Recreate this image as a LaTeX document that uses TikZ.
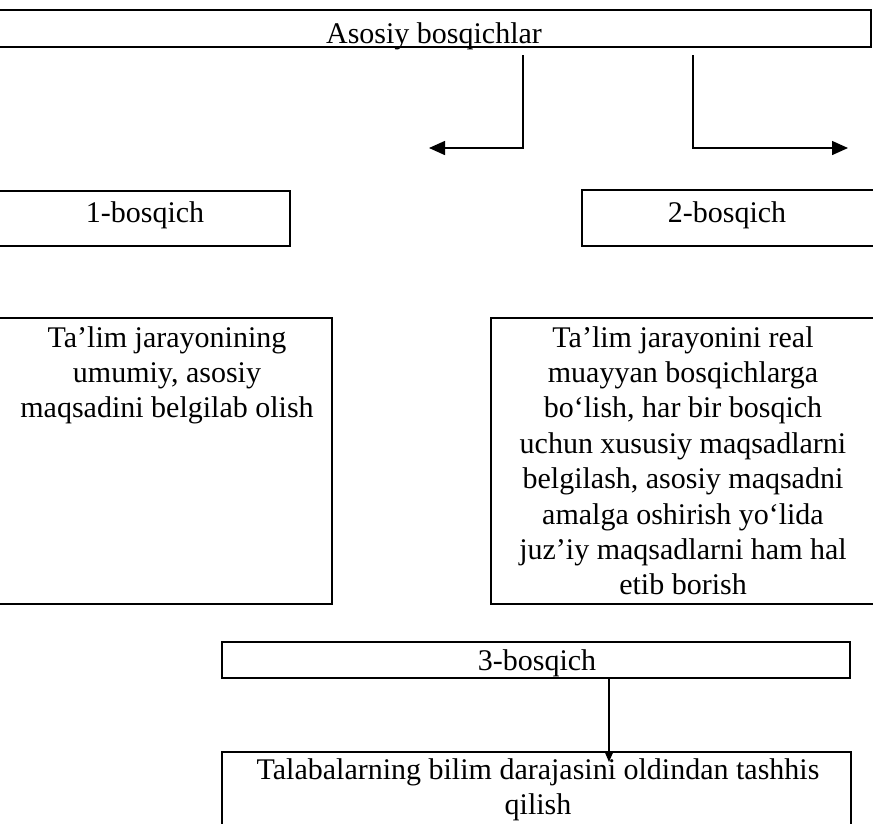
\documentclass[tikz,border=0pt]{standalone}
\usepackage{fontspec}
\setmainfont{Liberation Serif}
\usetikzlibrary{arrows.meta}
\tikzset{
  frame/.style={draw=black, line width=1.3pt, inner sep=0pt, fill=none},
  lbl/.style={inner sep=0pt, font=\fontsize{30}{35.4}\selectfont, align=center},
  conn/.style={draw=black, line width=1.5pt, -{Triangle[length=16pt,width=14pt]}},
  conns/.style={draw=black, line width=1.5pt, -{Triangle[length=11pt,width=9pt]}}
}
\begin{document}
\begin{tikzpicture}[x=1pt,y=-1pt]
\useasboundingbox (0,0) rectangle (873,823);
\clip (0,0) rectangle (873,823);
% boxes
\node[frame, minimum width=891pt, minimum height=37pt] (top) at (425.5,28.5) {};
\node[frame, minimum width=310pt, minimum height=55pt] (b1) at (135,218.5) {};
\node[frame, minimum width=318pt, minimum height=56pt] (b2) at (741,218) {};
\node[frame, minimum width=352pt, minimum height=286pt] (t1) at (156,461) {};
\node[frame, minimum width=409pt, minimum height=286pt] (t2) at (695.5,461) {};
\node[frame, minimum width=628pt, minimum height=36pt] (b3) at (536,660) {};
\node[frame, minimum width=629pt, minimum height=89pt] (t3) at (536.5,796.5) {};
% labels
\node[lbl, anchor=base] (ltop) at (434,43) {Asosiy bosqichlar};
\node[lbl, anchor=base] (lb1) at (145,222) {1-bosqich};
\node[lbl, anchor=base] (lb2) at (727,222) {2-bosqich};
\node[lbl, anchor=north] (lt1) at (167,322.2) {\strut Ta’lim jarayonining\\umumiy, asosiy\\maqsadini belgilab olish};
\node[lbl, anchor=north] (lt2) at (683,322.2) {\strut Ta’lim jarayonini real\\muayyan bosqichlarga\\bo‘lish, har bir bosqich\\uchun xususiy maqsadlarni\\belgilash, asosiy maqsadni\\amalga oshirish yo‘lida\\juz’iy maqsadlarni ham hal\\etib borish};
\node[lbl, anchor=base] (lb3) at (537,670) {3-bosqich};
\node[lbl, anchor=north] (lt3) at (538,754.2) {\strut Talabalarning bilim darajasini oldindan tashhis\\qilish};
% connectors
\coordinate (s1) at (523,55);
\coordinate (e1) at (429,148);
\coordinate (s2) at (693,55);
\coordinate (e2) at (848,148);
\coordinate (e3) at (609,762);
\draw[conn] (s1) |- (e1);
\draw[conn] (s2) |- (e2);
\draw[conns] (b3.south -| e3) -- (e3);
\end{tikzpicture}
\end{document}
